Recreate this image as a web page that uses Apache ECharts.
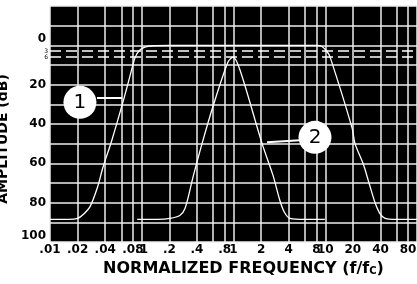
<!DOCTYPE html>
<html>
<head>
<meta charset="utf-8">
<script src="https://cdn.jsdelivr.net/npm/echarts@6/dist/echarts.min.js"></script>
<style>
  html, body { margin: 0; padding: 0; background: #fff; }
  #chart { width: 417px; height: 284px; }
</style>
</head>
<body>
<div id="chart"></div>
<script>
// curve 1: wide band response (f/fc, dB down)
const curve1Freq = [0.01, 0.016, 0.02, 0.023, 0.0273, 0.033, 0.0378, 0.0474, 0.064, 0.075, 0.085, 0.095, 0.11, 0.13, 0.2, 1, 5, 8, 9.2, 10.4, 11.3, 19.6, 21.1, 25.8, 30, 34.9, 40, 45, 55, 100];
const curve1Amp = [88.5, 88.5, 88, 86, 82, 72, 62, 48, 27, 15, 6, 2.5, 0.8, 0.2, 0, 0, 0, 0, 0.6, 3, 6, 42, 50, 60, 70, 80, 86, 88, 88.5, 88.5];
// curve 2: narrow band response
const curve2Freq = [0.089, 0.15, 0.203, 0.26, 0.296, 0.362, 0.454, 0.598, 0.871, 0.99, 1.18, 2.05, 2.69, 3.21, 3.6, 4.13, 6, 9.9];
const curve2Amp = [88.5, 88.5, 88, 86.5, 83, 67, 50, 31, 8.5, 6, 12.7, 50, 66, 79, 85, 88, 88.5, 88.5];

const freqLabels = [0.01, 0.02, 0.04, 0.08, 0.1, 0.2, 0.4, 0.8, 1, 2, 4, 8, 10, 20, 40, 80];
const freqGrid = [0.01, 0.02, 0.04, 0.06, 0.08, 0.1, 0.2, 0.4, 0.6, 0.8, 1, 2, 4, 6, 8, 10, 20, 40, 60, 80, 100];
const ampLabels = [0, 20, 40, 60, 80, 100];
const refLevels = [3, 6];

const calloutNames = ['1', '2'];
const calloutAt = [[0.0212, 29], [7.73, 46.8]];
const arrowFrom = [[0.0325, 26.4], [5.31, 48.3]];
const arrowTo = [[0.061, 26.4], [2.32, 49.3]];

const FONT = 'DejaVu Sans';
const zip = (xs, ys) => xs.map((x, i) => [x, ys[i]]);
const fmtFreq = v => {
  const s = String(+v.toPrecision(3));
  return s.startsWith('0.') ? s.slice(1) : s;
};

const chart = echarts.init(document.getElementById('chart'));

chart.setOption({
  animation: false,
  backgroundColor: '#fff',
  grid: {
    left: 50, right: 0, top: 6, bottom: 42,
    outerBoundsMode: 'none',
    containLabel: false,
    show: true, backgroundColor: '#000', borderWidth: 0
  },
  xAxis: {
    type: 'log',
    logBase: 10,
    min: 0.01,
    max: 100,
    name: 'NORMALIZED FREQUENCY (f/f{s|C})',
    nameLocation: 'middle',
    nameGap: 18,
    nameTextStyle: {
      color: '#000', fontFamily: FONT, fontSize: 16, fontWeight: 'bold',
      padding: [0, 0, 0, 20],
      rich: { s: { fontSize: 10, fontFamily: FONT, fontWeight: 'bold', color: '#000', verticalAlign: 'bottom', padding: [6, 0, 0, 0] } }
    },
    axisLine: { show: false },
    axisTick: { show: false, customValues: freqGrid },
    axisLabel: {
      customValues: freqLabels,
      formatter: fmtFreq,
      color: '#000', fontFamily: FONT, fontSize: 12, fontWeight: 'bold', margin: 2
    },
    splitLine: { show: true, lineStyle: { color: '#eeeeee', width: 1.5 } }
  },
  yAxis: {
    type: 'value',
    inverse: true,
    min: -20,
    max: 100,
    interval: 10,
    name: 'AMPLITUDE (dB)',
    nameLocation: 'middle',
    nameRotate: 90,
    nameGap: 29,
    nameTextStyle: { color: '#000', fontFamily: FONT, fontSize: 14, fontWeight: 'bold', padding: [0, 30, 0, 0] },
    axisLine: { show: false },
    axisTick: { show: false },
    axisLabel: {
      color: '#000', fontFamily: FONT, fontSize: 12, fontWeight: 'bold', margin: 4,
      formatter: v => {
        if (ampLabels.indexOf(v) < 0) return '';
        return (v === 0 || v === 100) ? '{e|' + v + '}' : String(v);
      },
      rich: { e: { color: '#000', fontFamily: FONT, fontSize: 12, fontWeight: 'bold', padding: [0, 0, 12, 0] } }
    },
    splitLine: { show: true, lineStyle: { color: '#eeeeee', width: 1.5 } }
  },
  series: [
    {
      type: 'line',
      data: [],
      markLine: {
        silent: true,
        symbol: 'none',
        lineStyle: { color: '#fff', width: 1.5, type: [11, 5] },
        label: { show: true, position: 'start', formatter: p => String(p.value), color: '#000', fontSize: 6, fontFamily: FONT, distance: 2 },
        data: refLevels.map(v => ({ yAxis: v }))
      }
    },
    {
      name: 'curve 1',
      type: 'line',
      data: zip(curve1Freq, curve1Amp),
      symbol: 'none',
      smooth: 0.3,
      lineStyle: { color: '#fff', width: 1.3 },
      z: 3
    },
    {
      name: 'curve 2',
      type: 'line',
      data: zip(curve2Freq, curve2Amp),
      symbol: 'none',
      smooth: 0.3,
      lineStyle: { color: '#fff', width: 1.3 },
      z: 3
    },
    {
      type: 'scatter',
      data: calloutAt.map((c, i) => ({ value: c, name: calloutNames[i] })),
      symbolSize: 33,
      itemStyle: { color: '#fff', opacity: 1 },
      label: {
        show: true, position: 'inside', formatter: p => p.name,
        color: '#000', fontFamily: FONT, fontSize: 20
      },
      markLine: {
        silent: true,
        symbol: ['none', 'arrow'],
        symbolSize: [0, 10],
        lineStyle: { color: '#fff', width: 2, type: 'solid' },
        label: { show: false },
        data: arrowFrom.map((a, i) => [{ coord: a }, { coord: arrowTo[i] }])
      },
      z: 5
    }
  ]
});
</script>
</body>
</html>
